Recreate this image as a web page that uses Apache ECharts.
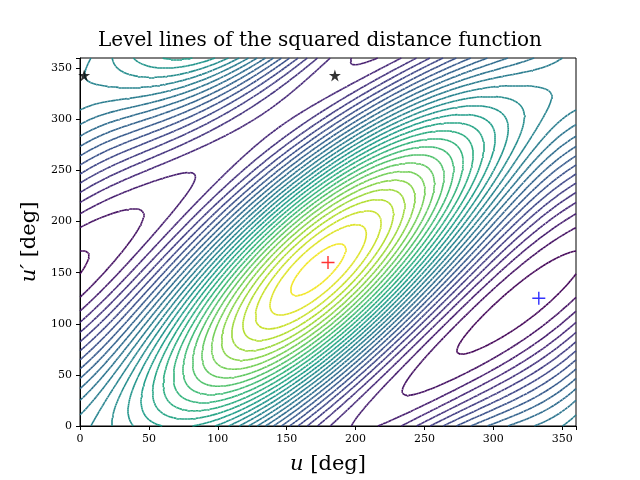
<!DOCTYPE html>
<html>
<head>
<meta charset="utf-8">
<script src="https://cdn.jsdelivr.net/npm/echarts@6/dist/echarts.min.js"></script>
<style>html,body{margin:0;background:#fff}#chart{width:640px;height:480px}</style>
</head>
<body>
<div id="chart"></div>
<script>
// function shape: band offset u-u', band-top modulation, tilt
var bandOffset = 20;
var topCentre = 180;
var topWeight = 0.35;
var tiltCentre = 320;
var tiltWeight = 0.08;
var levelCount = 30;
var gridStep = 2;
var starPoints = [[3, 343], [185, 343]];
var redPlus = [[180, 160]];
var bluePlus = [[333, 125]];
var viridis = ['#440154', '#482878', '#3e4989', '#31688e', '#26828e', '#1f9e89', '#35b779', '#6ece58', '#b5de2b', '#fde725'];

function dist2(u, v) {
    var r = Math.PI / 180;
    var band = (1 + Math.cos((u - v - bandOffset) * r)) / 2;
    return band * (1 + topWeight * Math.cos((u - topCentre) * r)) - tiltWeight * Math.cos((u - tiltCentre) * r);
}

function colorAt(t) {
    var p = t * (viridis.length - 1), i = Math.min(Math.floor(p), viridis.length - 2), f = p - i;
    var a = viridis[i], b = viridis[i + 1];
    var c = [1, 3, 5].map(function (k) {
        var x = parseInt(a.substr(k, 2), 16), y = parseInt(b.substr(k, 2), 16);
        return Math.round(x + (y - x) * f);
    });
    return 'rgb(' + c.join(',') + ')';
}

var n = 360 / gridStep + 1, grid = [], lo = Infinity, hi = -Infinity;
for (var j = 0; j < n; j++) {
    grid.push([]);
    for (var i = 0; i < n; i++) {
        var z = dist2(i * gridStep, j * gridStep);
        grid[j].push(z); lo = Math.min(lo, z); hi = Math.max(hi, z);
    }
}

function contour(level) {
    var segs = [];
    function pt(i1, j1, i2, j2) {
        var a = grid[j1][i1], b = grid[j2][i2], t = (level - a) / (b - a);
        return [(i1 + (i2 - i1) * t) * gridStep, (j1 + (j2 - j1) * t) * gridStep];
    }
    for (var j = 0; j < n - 1; j++) {
        for (var i = 0; i < n - 1; i++) {
            var e = [];
            var v0 = grid[j][i] > level, v1 = grid[j][i + 1] > level, v2 = grid[j + 1][i + 1] > level, v3 = grid[j + 1][i] > level;
            if (v0 !== v1) e.push(pt(i, j, i + 1, j));
            if (v1 !== v2) e.push(pt(i + 1, j, i + 1, j + 1));
            if (v2 !== v3) e.push(pt(i + 1, j + 1, i, j + 1));
            if (v3 !== v0) e.push(pt(i, j + 1, i, j));
            if (e.length === 2) segs.push({coords: [e[0], e[1]]});
            else if (e.length === 4) { segs.push({coords: [e[0], e[1]]}); segs.push({coords: [e[2], e[3]]}); }
        }
    }
    return segs;
}

var series = [];
for (var k = 0; k < levelCount; k++) {
    var t = (k + 0.5) / levelCount;
    series.push({
        type: 'lines', coordinateSystem: 'cartesian2d', silent: true,
        lineStyle: {color: colorAt(t), width: 1.6, opacity: 1},
        data: contour(lo + (hi - lo) * t), z: 2
    });
}
var starPath = 'path://M0,-1L0.2245,-0.309L0.951,-0.309L0.363,0.118L0.588,0.809L0,0.382L-0.588,0.809L-0.363,0.118L-0.951,-0.309L-0.2245,-0.309Z';
var plusPath = 'path://M-1,-0.11H1V0.11H-1Z M-0.11,-1H0.11V1H-0.11Z';
series.push({type: 'scatter', data: starPoints, symbol: starPath, symbolSize: 12, itemStyle: {color: '#000'}, z: 5});
series.push({type: 'scatter', data: redPlus, symbol: plusPath, symbolSize: 13, itemStyle: {color: '#ff0000'}, z: 5});
series.push({type: 'scatter', data: bluePlus, symbol: plusPath, symbolSize: 13, itemStyle: {color: '#0000ff'}, z: 5});

var axisCommon = {
    type: 'value', min: 0, max: 360, interval: 50,
    axisLine: {show: true, onZero: false, lineStyle: {color: '#000'}},
    axisTick: {show: true, inside: false, length: 4, lineStyle: {color: '#000'}},
    axisLabel: {color: '#000', fontFamily: 'DejaVu Serif', fontSize: 11,
        formatter: function (v) { return v === 360 ? '' : v; }},
    splitLine: {show: false},
    nameLocation: 'middle'
};
var option = {
    animation: false,
    title: {text: 'Level lines of the squared distance function', left: 'center', top: 26,
        textStyle: {fontFamily: 'DejaVu Serif', fontWeight: 'normal', fontSize: 20, color: '#000'}},
    grid: {left: 80, right: 64, top: 58, bottom: 53, show: true, borderColor: '#000', borderWidth: 1},
    xAxis: Object.assign({}, axisCommon, {
        name: '{i|u} [deg]', nameGap: 28,
        nameTextStyle: {fontFamily: 'DejaVu Serif', fontSize: 21, color: '#000',
            rich: {i: {fontFamily: 'DejaVu Serif', fontStyle: 'italic', fontSize: 21}}}
    }),
    yAxis: Object.assign({}, axisCommon, {
        name: '{i|u′} [deg]', nameGap: 38,
        nameTextStyle: {fontFamily: 'DejaVu Serif', fontSize: 21, color: '#000',
            rich: {i: {fontFamily: 'DejaVu Serif', fontStyle: 'italic', fontSize: 21}}}
    }),
    series: series
};
var chart = echarts.init(document.getElementById('chart'));
chart.setOption(option);
</script>
</body>
</html>
